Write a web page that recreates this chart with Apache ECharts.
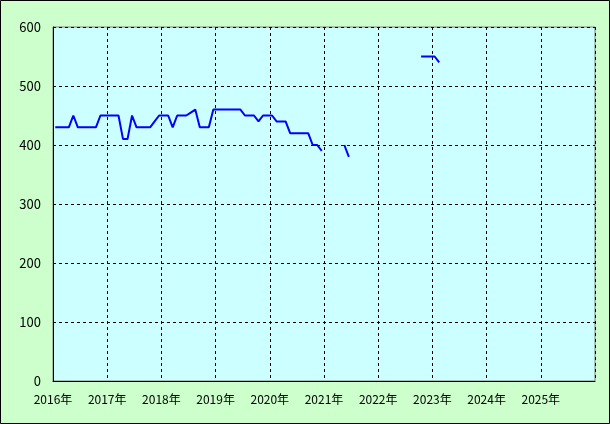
<!DOCTYPE html>
<html><head><meta charset="utf-8">
<script src="https://cdn.jsdelivr.net/npm/echarts@6/dist/echarts.min.js"></script>
<style>html,body{margin:0;padding:0;background:#ccffcc;}#c{width:610px;height:424px;}</style>
</head><body><div id="c"></div>
<script>
var yearLabels = ["2016年","2017年","2018年","2019年","2020年","2021年","2022年","2023年","2024年","2025年"];
var yTicks = [0,100,200,300,400,500,600];
var v2016 = [430,430,430,430,450,430,430,430,430,430,450,450];
var v2017 = [450,450,450,410,410,450,430,430,430,430,440,450];
var v2018 = [450,450,430,450,450,450,455,460,430,430,430,460];
var v2019 = [460,460,460,460,460,460,450,450,450,440,450,450];
var v2020 = [450,440,440,440,420,420,420,420,420,400,400,390];
var v2021 = [null,null,null,null,400,380,null,null,null,null,null,null];
var v2022 = [null,null,null,null,null,null,null,null,null,550,550,550];
var v2023 = [550,540,null,null,null,null,null,null,null,null,null,null];
var v2024 = [null,null,null,null,null,null,null,null,null,null,null,null];
var v2025 = [null,null,null,null,null,null,null,null,null,null,null,null];

var all = [].concat(v2016,v2017,v2018,v2019,v2020,v2021,v2022,v2023,v2024,v2025);
var data = all.map(function(v,i){ return [i+0.5, v]; });

var chart = echarts.init(document.getElementById('c'), null, {renderer:'canvas'});
var font = '"Noto Sans CJK JP", sans-serif';
chart.setOption({
  backgroundColor:'#ccffcc',
  animation:false,
  graphic:[{type:'rect', shape:{x:0.5,y:0.5,width:609,height:423}, style:{fill:'none', stroke:'#000', lineWidth:1}, z:100}],
  grid:{left:53, right:15, top:27, bottom:43, show:true, backgroundColor:'#ccffff', borderColor:'#808080', borderWidth:1},
  xAxis:{type:'value', min:0, max:120, interval:12,
    axisLine:{show:true, onZero:false, lineStyle:{color:'#000', width:1}},
    axisTick:{show:false},
    axisLabel:{color:'#000', fontSize:12, fontFamily:font, margin:12,
      formatter:function(v){ var k=Math.round(v/12); return k<yearLabels.length? yearLabels[k] : ''; }},
    splitLine:{show:true, lineStyle:{color:'#000', type:[3,3], width:1}}
  },
  yAxis:{type:'value', min:yTicks[0], max:yTicks[yTicks.length-1], interval:100,
    axisLine:{show:true, lineStyle:{color:'#000', width:1}},
    axisTick:{show:false},
    axisLabel:{color:'#000', fontSize:13, fontFamily:font, margin:12},
    splitLine:{show:true, lineStyle:{color:'#000', type:[3,3], width:1}}
  },
  series:[{type:'line', data:data, showSymbol:false, connectNulls:false,
    lineStyle:{color:'#0000ff', width:2}, itemStyle:{color:'#0000ff'}}]
});
</script></body></html>
